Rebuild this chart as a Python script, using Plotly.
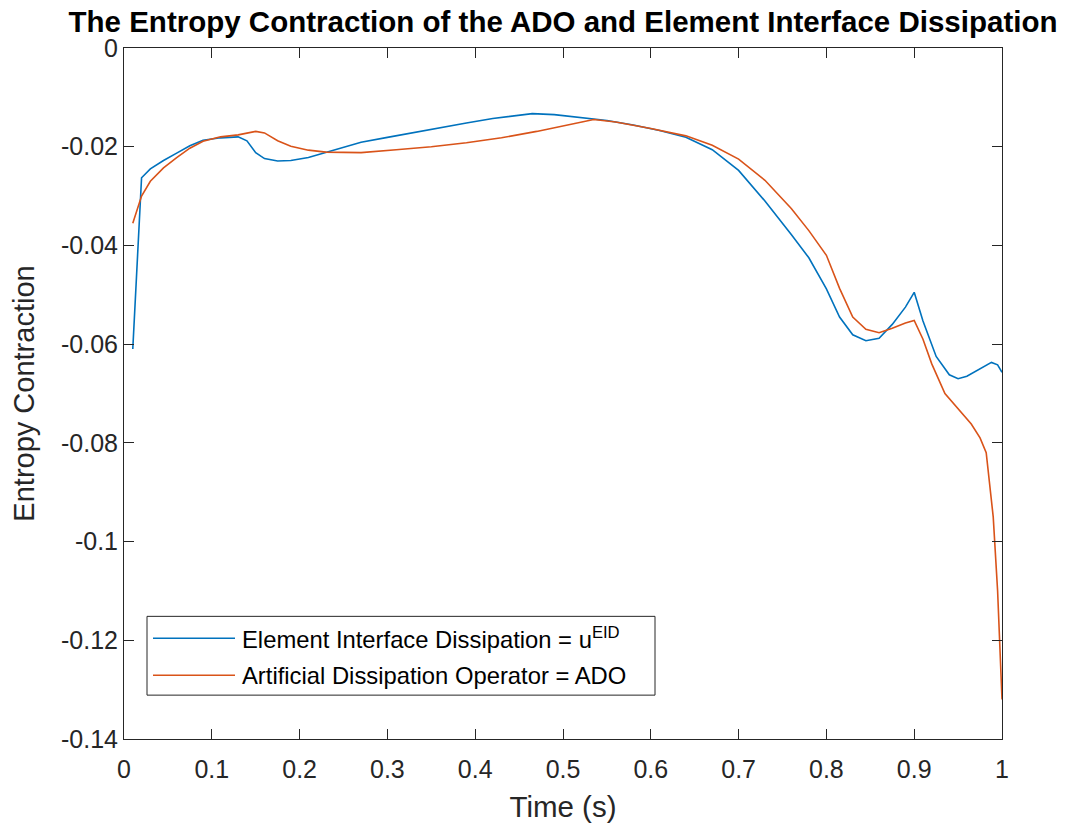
import plotly.graph_objects as go

# Time samples and entropy contraction for the element-interface-dissipation run
t_eid = [0.01, 0.02, 0.03, 0.045, 0.06, 0.075, 0.09, 0.11, 0.13, 0.14, 0.15, 0.16,
         0.175, 0.19, 0.21, 0.23, 0.25, 0.27, 0.30, 0.33, 0.36, 0.39, 0.42, 0.45,
         0.465, 0.49, 0.52, 0.55, 0.58, 0.61, 0.64, 0.67, 0.70, 0.73, 0.76, 0.78,
         0.80, 0.815, 0.83, 0.845, 0.86, 0.875, 0.89, 0.90, 0.91, 0.925, 0.94, 0.95,
         0.96, 0.975, 0.988, 0.995, 1.0]
eid = [-0.0610, -0.0263, -0.0245, -0.0228, -0.0213, -0.0198, -0.0187, -0.0182, -0.0180,
       -0.0188, -0.0212, -0.0224, -0.0229, -0.0228, -0.0222, -0.0212, -0.0201, -0.0191,
       -0.0181, -0.0171, -0.0162, -0.0152, -0.0143, -0.0136, -0.0133, -0.0135, -0.0141,
       -0.0147, -0.0156, -0.0167, -0.0181, -0.0206, -0.0248, -0.0310, -0.0378, -0.0425,
       -0.0488, -0.0545, -0.0581, -0.0593, -0.0588, -0.0560, -0.0525, -0.0495, -0.0553,
       -0.0625, -0.0662, -0.0670, -0.0665, -0.0650, -0.0637, -0.0642, -0.0657]

# Time samples and entropy contraction for the artificial dissipation operator run
t_ado = [0.01, 0.02, 0.03, 0.045, 0.06, 0.075, 0.09, 0.11, 0.13, 0.15, 0.16, 0.175,
         0.19, 0.21, 0.23, 0.27, 0.31, 0.35, 0.39, 0.43, 0.47, 0.51, 0.535, 0.56,
         0.60, 0.64, 0.67, 0.70, 0.73, 0.76, 0.78, 0.80, 0.815, 0.83, 0.845, 0.86,
         0.875, 0.89, 0.90, 0.91, 0.92, 0.935, 0.95, 0.965, 0.975, 0.982, 0.99,
         0.995, 1.0]
ado = [-0.0355, -0.0300, -0.0270, -0.0243, -0.0222, -0.0203, -0.0189, -0.0180, -0.0176,
       -0.0169, -0.0172, -0.0188, -0.0199, -0.0207, -0.0211, -0.0212, -0.0206, -0.0200,
       -0.0192, -0.0182, -0.0169, -0.0155, -0.0145, -0.0150, -0.0163, -0.0178, -0.0197,
       -0.0225, -0.0268, -0.0325, -0.0370, -0.0420, -0.0487, -0.0545, -0.0570, -0.0577,
       -0.0568, -0.0557, -0.0552, -0.0590, -0.0640, -0.0700, -0.0730, -0.0762, -0.0790,
       -0.0820, -0.0950, -0.1100, -0.1320]

series_names = ["Element Interface Dissipation = u<sup>EID</sup>",
                "Artificial Dissipation Operator = ADO"]
series_colors = ["#0072BD", "#D95319"]

x_ticks = [0, 0.1, 0.2, 0.3, 0.4, 0.5, 0.6, 0.7, 0.8, 0.9, 1.0]
x_tick_labels = ["0", "0.1", "0.2", "0.3", "0.4", "0.5", "0.6", "0.7", "0.8", "0.9", "1"]
y_ticks = [0, -0.02, -0.04, -0.06, -0.08, -0.1, -0.12, -0.14]
y_tick_labels = ["0", "-0.02", "-0.04", "-0.06", "-0.08", "-0.1", "-0.12", "-0.14"]

FONT = "Liberation Sans, Arial, Helvetica, sans-serif"
AXIS_COLOR = "#262626"

W, H = 1068, 830
M_L, M_R, M_T, M_B = 124, 66, 48, 89
PLOT_W = W - M_L - M_R
PLOT_H = H - M_T - M_B


def px_x(px):
    """Horizontal pixel position -> paper fraction of the plot area."""
    return (px - M_L) / PLOT_W


def px_y(py):
    """Vertical pixel position (from top) -> paper fraction of the plot area."""
    return (H - M_B - py) / PLOT_H


fig = go.Figure()
for tx, vals, name, color in [(t_eid, eid, series_names[0], series_colors[0]),
                              (t_ado, ado, series_names[1], series_colors[1])]:
    fig.add_trace(go.Scatter(x=tx, y=vals, mode="lines", name=name,
                             line=dict(color=color, width=1.6), showlegend=False))

axis_common = dict(
    showgrid=False, zeroline=False, showline=True, linecolor=AXIS_COLOR, linewidth=1,
    mirror="ticks", ticks="inside", ticklen=10, tickcolor=AXIS_COLOR, tickwidth=1,
    tickfont=dict(family=FONT, size=25, color=AXIS_COLOR),
)

# Boxed legend in the lower-left corner of the axes
LEG_LEFT, LEG_RIGHT, LEG_TOP, LEG_BOTTOM = 147, 655, 618, 697
row_y = [640, 677]
shapes = [dict(type="rect", xref="paper", yref="paper",
               x0=px_x(LEG_LEFT), x1=px_x(LEG_RIGHT), y0=px_y(LEG_BOTTOM), y1=px_y(LEG_TOP),
               line=dict(color=AXIS_COLOR, width=1), fillcolor="white", layer="above")]
annotations = []
for ry, name, color in zip(row_y, series_names, series_colors):
    shapes.append(dict(type="line", xref="paper", yref="paper",
                       x0=px_x(153), x1=px_x(235), y0=px_y(ry), y1=px_y(ry),
                       line=dict(color=color, width=1.6), layer="above"))
    annotations.append(dict(xref="paper", yref="paper", x=px_x(240), y=px_y(ry),
                            xanchor="left", yanchor="middle", showarrow=False, text=name,
                            font=dict(family=FONT, size=23.8, color="black")))

fig.update_layout(
    width=W, height=H,
    margin=dict(l=M_L, r=M_R, t=M_T, b=M_B),
    paper_bgcolor="white", plot_bgcolor="white",
    title=dict(
        text="<b>The Entropy Contraction of the ADO and Element Interface Dissipation</b>",
        font=dict(family=FONT, size=29.5, color="black"),
        x=563 / W, xanchor="center", y=1 - 22 / H, yanchor="middle",
    ),
    xaxis=dict(
        range=[0, 1], tickvals=x_ticks, ticktext=x_tick_labels, ticklabelstandoff=8,
        title=dict(text="Time (s)", font=dict(family=FONT, size=29.5, color=AXIS_COLOR), standoff=14),
        **axis_common,
    ),
    yaxis=dict(
        range=[-0.14, 0], tickvals=y_ticks, ticktext=y_tick_labels,
        title=dict(text="Entropy Contraction", font=dict(family=FONT, size=29, color=AXIS_COLOR), standoff=17),
        **axis_common,
    ),
    shapes=shapes,
    annotations=annotations,
    showlegend=False,
)

fig.write_html("out.html")
